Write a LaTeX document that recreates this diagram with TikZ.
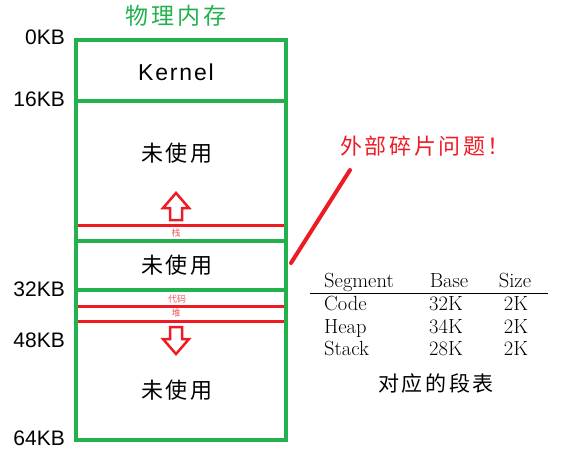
\documentclass[tikz,border=0pt]{standalone}
\usepackage{fontspec}
\setsansfont{Liberation Sans}
\newfontfamily\cjk{Noto Sans CJK SC}
\newfontfamily\cjkwide{Noto Sans CJK SC}[LetterSpace=12]
\usetikzlibrary{positioning}
\definecolor{memgreen}{HTML}{22B14C}
\definecolor{memred}{HTML}{ED1C24}
\tikzset{wall/.style = {draw=memgreen, line width=4}}
\tikzset{segline/.style = {draw=memred, line width=3}}
\tikzset{hollow/.style = {draw=memred, line width=2.5, line join=miter}}
\tikzset{addr/.style = {anchor=east, inner sep=0, font=\sffamily\fontsize{21}{21}\selectfont}}
\tikzset{unused/.style = {inner sep=0, font=\cjkwide\fontsize{22}{22}\selectfont}}
\tikzset{tag/.style = {inner sep=0, text=memred!75, font=\cjk\fontsize{9}{9}\selectfont}}
\tikzset{cell/.style = {anchor=base, inner sep=0, font=\fontsize{20.5}{20.5}\selectfont}}

\begin{document}
\begin{tikzpicture}[x=1pt, y=-1pt]
    \useasboundingbox (0,0) rectangle (577,453);
    % physical memory
    \node [inner sep=0, text=memgreen, font=\cjkwide\fontsize{23}{23}\selectfont] (title) at (176,16) {物理内存};
    \draw [wall] (76,40) rectangle (286,440);
    \foreach \y in {101,241,290}{
      \draw [wall] (76,\y) -- (286,\y);
    }
    \foreach \y in {225,306,321}{
      \draw [segline] (78,\y) -- (284,\y);
    }
    \foreach \y/\t in {37/0KB, 99/16KB, 289/32KB, 340/48KB, 438/64KB}{
      \node [addr] at (65,\y) {\t};
    }
    \node [inner sep=0, font=\sffamily\fontsize{23}{23}\selectfont\addfontfeature{LetterSpace=8}] (kernel) at (176,72) {Kernel};
    \node [unused] (free1) at (177,153) {未使用};
    \node [unused] (free2) at (177,265) {未使用};
    \node [unused] (free3) at (177,390) {未使用};
    \node [tag] (stack) at (176,233) {栈};
    \node [tag] (code) at (177,299) {代码};
    \node [tag] (heap) at (176,313) {堆};
    % growth arrows
    \foreach \b/\s in {208/1, 339/-1}{
      \draw [hollow] (176,\b-15*\s) -- (189,\b) -- (182,\b) -- (182,\b+12*\s)
        -- (170,\b+12*\s) -- (170,\b) -- (163,\b) -- cycle;
    }
    % fragmentation note
    \node [inner sep=0, text=memred, font=\cjkwide\fontsize{22}{22}\selectfont] (frag) at (425,146) {外部碎片问题！};
    \coordinate (fragtip) at (350,170);
    \coordinate (gap) at (291,263);
    \draw [memred, line width=4, line cap=round] (fragtip) -- (gap);
    % segment table
    \node [cell, anchor=base west] (seghead) at (324,287) {Segment};
    \node [cell] (basehead) at (449,287) {Base};
    \node [cell] (sizehead) at (515,287) {Size};
    \draw [line width=1] (310,293) -- (548,293);
    \foreach \y/\n/\b in {310.5/Code/32K, 333/Heap/34K, 355.5/Stack/28K}{
      \node [cell, anchor=base west] at (324,\y) {\n};
      \node [cell] at (446,\y) {\b};
      \node [cell] at (516,\y) {2K};
    }
    \node [inner sep=0, font=\cjkwide\fontsize{21}{21}\selectfont] (caption) at (436,383) {对应的段表};
\end{tikzpicture}
\end{document}
